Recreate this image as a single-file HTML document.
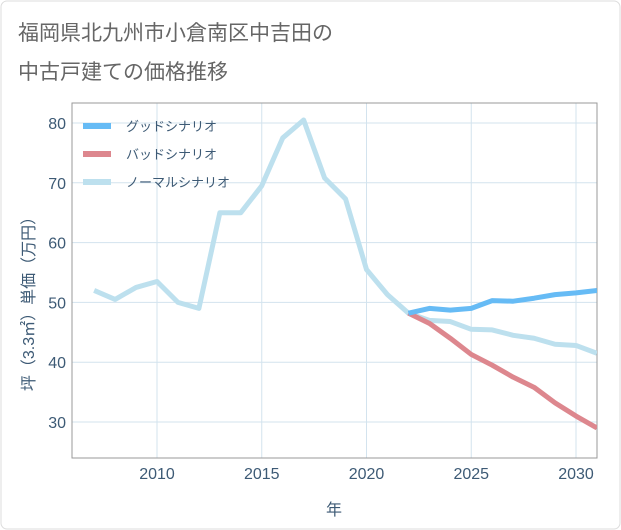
<!DOCTYPE html>
<html><head><meta charset="utf-8"><style>
body{margin:0;background:#fff;}
svg{display:block;font-family:"Liberation Sans","Noto Sans CJK JP",sans-serif;}
</style></head><body>
<svg width="621" height="530">
<rect x="1" y="1" width="619" height="528" rx="6" fill="#fff" stroke="#ddd"/>
<text x="18" y="40" font-size="21" fill="#666">福岡県北九州市小倉南区中吉田の</text>
<text x="18" y="79" font-size="21" fill="#666">中古戸建ての価格推移</text>
<g id="grid"></g>
<rect x="72" y="103" width="525" height="355" fill="none" stroke="#999"/>
<g id="series"></g>
<g id="axes"></g>
<text transform="translate(34,300) rotate(-90)" text-anchor="middle" font-size="16" fill="#3d5a75">坪（3.3㎡）単価（万円）</text>
<text x="334" y="515" text-anchor="middle" font-size="16" fill="#3d5a75">年</text>
<g>
<line x1="83" y1="126" x2="111" y2="126" stroke="#66bbf5" stroke-width="6"/>
<text x="126" y="131" font-size="13" fill="#3d5a75">グッドシナリオ</text>
<line x1="83" y1="154" x2="111" y2="154" stroke="#dd878e" stroke-width="6"/>
<text x="126" y="159" font-size="13" fill="#3d5a75">バッドシナリオ</text>
<line x1="83" y1="182" x2="111" y2="182" stroke="#bde0ee" stroke-width="6"/>
<text x="126" y="187" font-size="13" fill="#3d5a75">ノーマルシナリオ</text>
</g>
</svg>
<script>
const normalYears=[2007,2008,2009,2010,2011,2012,2013,2014,2015,2016,2017,2018,2019,2020,2021,2022,2023,2024,2025,2026,2027,2028,2029,2030,2031];
const normalValues=[52,50.5,52.5,53.5,50,49,65,65,69.5,77.5,80.5,70.8,67.3,55.5,51.3,48.2,47,46.8,45.5,45.4,44.5,44,43,42.8,41.5];
const forecastYears=[2022,2023,2024,2025,2026,2027,2028,2029,2030,2031];
const goodValues=[48.2,49,48.7,49,50.3,50.2,50.7,51.3,51.6,52];
const badValues=[48.2,46.5,44,41.3,39.5,37.5,35.8,33.2,31,29];
const xTicks=[2010,2015,2020,2025,2030];
const yTicks=[30,40,50,60,70,80];
const NS='http://www.w3.org/2000/svg';
const x=y=>157+(y-2010)*20.95;
const yS=v=>123+(80-v)*5.98;
function mk(t,a,p){const e=document.createElementNS(NS,t);for(const k in a)e.setAttribute(k,a[k]);p.appendChild(e);return e;}
const grid=document.getElementById('grid'),axes=document.getElementById('axes'),ser=document.getElementById('series');
xTicks.forEach(t=>{const l=mk('line',{x1:x(t),x2:x(t),y1:103,y2:458,stroke:'#d3e3ee','stroke-width':1},grid);


const tx=mk('text',{x:x(t),y:479,'text-anchor':'middle','font-size':16,fill:'#3d5a75'},axes);tx.textContent=t;

});
yTicks.forEach(t=>{const l=mk('line',{x1:72,x2:597,y1:yS(t),y2:yS(t),stroke:'#d3e3ee','stroke-width':1},grid);


const tx=mk('text',{x:66,y:yS(t)+6,'text-anchor':'end','font-size':16,fill:'#3d5a75'},axes);tx.textContent=t;

});
function line(xs,vs,c,name){const p=mk('polyline',{points:xs.map((yr,i)=>x(yr)+','+yS(vs[i])).join(' '),fill:'none',stroke:c,'stroke-width':5,'stroke-linejoin':'round'},ser);

}
const cp=mk('clipPath',{id:'cp'},ser);mk('rect',{x:72,y:103,width:525,height:355},cp);ser.setAttribute('clip-path','url(#cp)');
line(normalYears,normalValues,'#bde0ee','normal-line');
line(forecastYears,badValues,'#dd878e','bad-line');
line(forecastYears,goodValues,'#66bbf5','good-line');
</script>
</body></html>
